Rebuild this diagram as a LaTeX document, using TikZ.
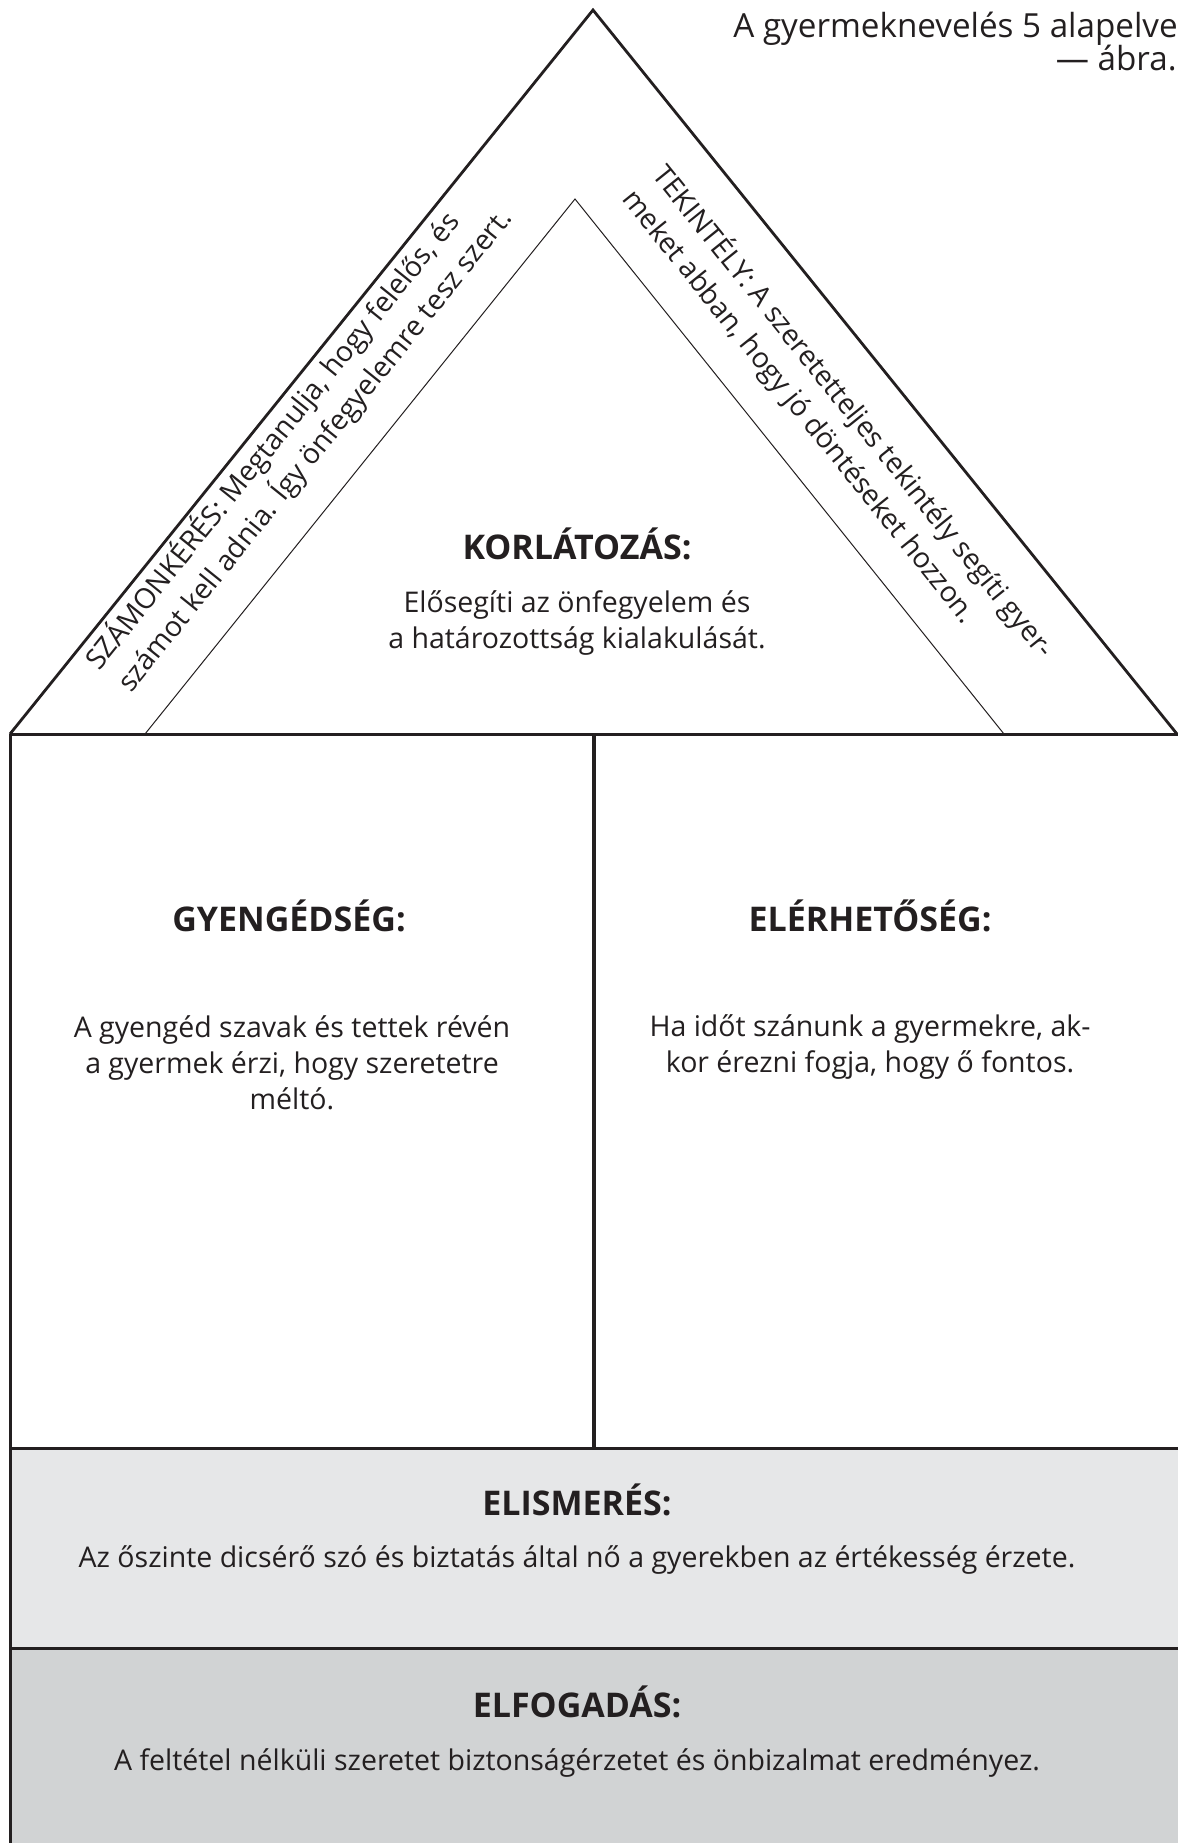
\documentclass[tikz,border=0pt]{standalone}
\usepackage{fontspec}
\setmainfont{Open Sans}
\definecolor{inkline}{HTML}{231F20}
\definecolor{lightfill}{HTML}{E6E7E8}
\definecolor{darkfill}{HTML}{D1D3D4}

\begin{document}
\begin{tikzpicture}[x=0.5pt,y=-0.5pt,
		roofline/.style={draw=inkline, line width=1.4pt, line join=miter},
		innerline/.style={draw=inkline, line width=0.5pt},
		boxline/.style={draw=inkline, line width=1.5pt},
		titletext/.style={font=\fontsize{16.6}{19}\selectfont, text=inkline, inner sep=0pt},
		headtext/.style={font=\bfseries\fontsize{17}{20}\selectfont, text=inkline, inner sep=0pt, anchor=base},
		bodytext/.style={font=\fontsize{14.25}{18}\selectfont, text=inkline, inner sep=0pt, align=center, anchor=base},
		slanttext/.style={font=\fontsize{14.1}{18}\selectfont, text=inkline, inner sep=0pt, anchor=base west}]
		\useasboundingbox (0,0) rectangle (1178,1843);
		% the two shaded strips at the bottom
		\fill[lightfill] (10,1448) rectangle (1190,1648);
		\fill[darkfill] (10,1648) rectangle (1190,1850);
		% roof
		\coordinate (apex) at (593,10);
		\coordinate (eaveL) at (10,734);
		\coordinate (eaveR) at (1177,734);
		\coordinate (apexIn) at (575,199);
		\coordinate (eaveInL) at (145,734);
		\coordinate (eaveInR) at (1004,734);
		\draw[innerline] (eaveInL) -- (apexIn) -- (eaveInR);
		\draw[roofline] (eaveL) -- (apex) -- (eaveR);
		% walls and floors
		\draw[boxline] (eaveL) -- (1190,734);
		\draw[boxline] (eaveL) -- (10,1850);
		\draw[inkline, line width=2.2pt] (594,734) -- (594,1448);
		\draw[boxline] (10,1448) -- (1190,1448);
		\draw[boxline] (10,1648) -- (1190,1648);
		% title
		\node[titletext, anchor=base west] (title) at (733,37) {A gyermeknevelés 5 alapelve};
		\node[titletext, anchor=base east] (titleB) at (1177,70) {— ábra.};
		% slanted texts in the roof
		\node[slanttext, rotate=51.2] (szamA) at (99,672) {SZÁMONKÉRÉS: Megtanulja, hogy felelős, és};
		\node[slanttext, rotate=51.2] (szamB) at (131,694) {számot kell adnia. Így önfegyelemre tesz szert.};
		\node[slanttext, rotate=-51.2] (tekA) at (651,175) {TEKINTÉLY: A szeretetteljes tekintély segíti gyer-};
		\node[slanttext, rotate=-51.2] (tekB) at (621,199) {meket abban, hogy jó döntéseket hozzon.};
		% korlátozás
		\node[headtext] (korlHead) at (577,559) {KORLÁTOZÁS:};
		\node[bodytext] (korlBody) at (577,648) {Elősegíti az önfegyelem és\\a határozottság kialakulását.};
		% gyengédség, elérhetőség
		\node[headtext] (gyenHead) at (289,931) {GYENGÉDSÉG:};
		\node[bodytext] (gyenBody) at (292,1109) {A gyengéd szavak és tettek révén\\a gyermek érzi, hogy szeretetre\\méltó.};
		\node[headtext] (elerHead) at (870,931) {ELÉRHETŐSÉG:};
		\node[bodytext] (elerBody) at (870,1072) {Ha időt szánunk a gyermekre, ak-\\kor érezni fogja, hogy ő fontos.};
		% elismerés, elfogadás
		\node[headtext] (elisHead) at (577,1515) {ELISMERÉS:};
		\node[bodytext] (elisBody) at (577,1567) {Az őszinte dicsérő szó és biztatás által nő a gyerekben az értékesség érzete.};
		\node[headtext] (elfoHead) at (577,1717) {ELFOGADÁS:};
		\node[bodytext] (elfoBody) at (577,1770) {A feltétel nélküli szeretet biztonságérzetet és önbizalmat eredményez.};
	\end{tikzpicture}
\end{document}
